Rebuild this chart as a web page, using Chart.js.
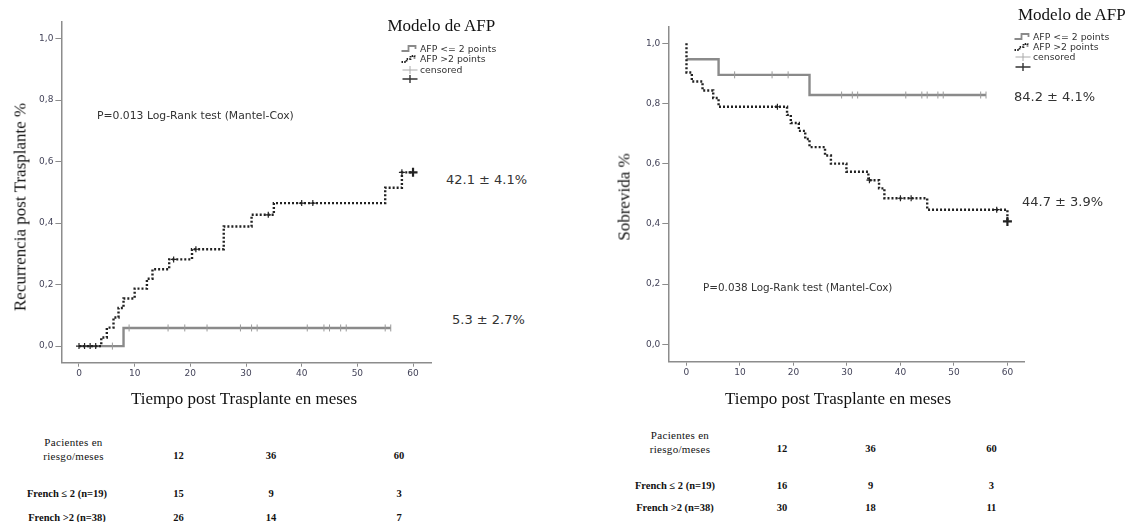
<!DOCTYPE html>
<html>
<head>
<meta charset="utf-8">
<script src="https://cdn.jsdelivr.net/npm/chart.js@4.4.1/dist/chart.umd.min.js"></script>
<style>
  body { margin: 0; background: #fff; width: 1126px; height: 522px; position: relative; overflow: hidden; }
  canvas { position: absolute; top: 0; }
  .t { position: absolute; white-space: nowrap; line-height: 1; }
  .serif { font-family: 'Liberation Serif', 'Times New Roman', serif; color: #111; }
  .sans { font-family: 'DejaVu Sans', sans-serif; color: #333; }
</style>
</head>
<body>
<canvas id="leftChart" width="440" height="390" style="left:0"></canvas>
<canvas id="rightChart" width="526" height="390" style="left:600px"></canvas>
<script>
// --- Recurrencia post trasplante (panel izquierdo) ---
const recTimesLe2 = [0, 8, 56];
const recValsLe2 = [0, 0.059, 0.059];
const recCensLe2 = [6, 9, 16, 19, 23, 29, 31, 32, 41, 44, 45, 47, 48, 55, 56];
const recTimesGt2 = [0, 4, 5, 6.2, 7.1, 8, 10, 12.2, 13.2, 16.2, 20.3, 26, 31, 35, 55, 58, 60];
const recValsGt2 = [0, 0.028, 0.06, 0.093, 0.124, 0.155, 0.187, 0.219, 0.25, 0.282, 0.315, 0.389, 0.427, 0.465, 0.515, 0.565, 0.565];
const recCensGt2 = [0, 1, 2, 3, 17, 21, 34, 40, 42, 58];
const recCensGt2Last = [60];

// --- Sobrevida (panel derecho) ---
const survTimesLe2 = [0, 6, 23, 56];
const survValsLe2 = [0.947, 0.895, 0.828, 0.828];
const survCensLe2 = [9, 16, 19, 29, 31, 32, 41, 44, 45, 47, 48, 55, 56];
const survTimesGt2 = [0, 0, 1, 3, 5, 6, 18.8, 19.5, 21, 22.2, 23, 25.9, 27, 29.9, 34, 36, 37, 45, 60];
const survValsGt2 = [1.0, 0.903, 0.873, 0.843, 0.818, 0.789, 0.762, 0.735, 0.709, 0.682, 0.655, 0.627, 0.6, 0.573, 0.545, 0.518, 0.485, 0.447, 0.408];
const survCensGt2 = [17, 34.2, 40, 42, 58];
const survCensGt2Last = [60];

// ticks
const xTicks = [0, 10, 20, 30, 40, 50, 60];
const yTicks = [0, 0.2, 0.4, 0.6, 0.8, 1.0];

// pacientes en riesgo
const riskMonths = [12, 36, 60];
const groupLabels = ['French \u2264 2 (n=19)', 'French >2 (n=38)'];
const recRiskLe2 = [15, 9, 3];
const recRiskGt2 = [26, 14, 7];
const survRiskLe2 = [16, 9, 3];
const survRiskGt2 = [30, 18, 11];

const GREY = '#8a8a8a';
const BLACK = '#222';
const AXIS = '#8c8c8c';
const TICK_FONT = { family: 'DejaVu Sans', size: 9 };

const toPoints = (times, vals) => times.map((t, i) => ({ x: t, y: vals[i] }));
// value of the step curve at time t
const valueAt = (times, vals, t) => {
  let v = vals[0];
  times.forEach((tt, i) => { if (tt <= t) v = vals[i]; });
  return v;
};
const censPoints = (cens, times, vals) => cens.map(t => ({ x: t, y: valueAt(times, vals, t) }));

function makeChart(id, cfg) {
  const ctx = document.getElementById(id).getContext('2d');
  return new Chart(ctx, {
    type: 'line',
    data: {
      datasets: [
        { type: 'scatter', data: censPoints(cfg.censGt2Last, cfg.timesGt2, cfg.valsGt2),
          pointStyle: 'cross', pointRadius: 4.5, borderColor: BLACK, pointBorderWidth: 2.2, showLine: false },
        { type: 'scatter', data: censPoints(cfg.censGt2, cfg.timesGt2, cfg.valsGt2),
          pointStyle: 'cross', pointRadius: 3, borderColor: BLACK, pointBorderWidth: 1.2, showLine: false },
        { type: 'scatter', data: censPoints(cfg.censLe2, cfg.timesLe2, cfg.valsLe2),
          pointStyle: 'line', rotation: 90, pointRadius: 3.5, borderColor: '#9a9a9a', pointBorderWidth: 1, showLine: false },
        { label: 'AFP >2 points', data: toPoints(cfg.timesGt2, cfg.valsGt2), stepped: true,
          borderColor: BLACK, borderWidth: 2.4, borderDash: [2, 2], pointRadius: 0, fill: false },
        { label: 'AFP <= 2 points', data: toPoints(cfg.timesLe2, cfg.valsLe2), stepped: true,
          borderColor: GREY, borderWidth: 2.4, pointRadius: 0, fill: false }
      ]
    },
    options: {
      responsive: false,
      animation: false,
      layout: { padding: cfg.padding },
      plugins: { legend: { display: false }, tooltip: { enabled: false } },
      scales: {
        x: {
          type: 'linear', min: cfg.xMin, max: cfg.xMax,
          afterBuildTicks: s => { s.ticks = xTicks.map(v => ({ value: v })); },
          afterFit: s => { s.height = 20; },
          grid: { drawOnChartArea: false, drawTicks: true, tickLength: 4, color: AXIS },
          border: { color: AXIS, width: 1.5 },
          ticks: { font: TICK_FONT, color: '#44445a', padding: 2, maxRotation: 0, autoSkip: false }
        },
        y: {
          type: 'linear', min: cfg.yMin, max: cfg.yMax,
          afterBuildTicks: s => { s.ticks = yTicks.map(v => ({ value: v })); },
          afterFit: s => { s.width = cfg.yWidth; },
          grid: { drawOnChartArea: false, drawTicks: true, tickLength: 6, color: AXIS },
          border: { color: AXIS, width: 1.5 },
          ticks: { font: TICK_FONT, color: '#44445a', padding: 2, autoSkip: false,
                   callback: v => v.toFixed(1).replace('.', ',') }
        }
      }
    }
  });
}

makeChart('leftChart', {
  timesLe2: recTimesLe2, valsLe2: recValsLe2, censLe2: recCensLe2,
  timesGt2: recTimesGt2, valsGt2: recValsGt2, censGt2: recCensGt2, censGt2Last: recCensGt2Last,
  xMin: -3.16, xMax: 63.3, yMin: -0.054, yMax: 1.054, yWidth: 61.4,
  padding: { left: 0, top: 22, right: 8.6, bottom: 7.3 }
});
makeChart('rightChart', {
  timesLe2: survTimesLe2, valsLe2: survValsLe2, censLe2: survCensLe2,
  timesGt2: survTimesGt2, valsGt2: survValsGt2, censGt2: survCensGt2, censGt2Last: survCensGt2Last,
  xMin: -3.4, xMax: 63.1, yMin: -0.058, yMax: 1.055, yWidth: 68.3,
  padding: { left: 0, top: 26.7, right: 102, bottom: 8.3 }
});

// text helpers
function place(text, x, cy, cls, css, anchor) {
  const d = document.createElement('div');
  d.className = 't ' + cls;
  d.textContent = text;
  d.style.left = x + 'px';
  d.style.top = cy + 'px';
  const tx = anchor === 'center' ? '-50%' : '0';
  d.style.transform = 'translate(' + tx + ',-50%)' + (css.rotate ? ' rotate(-90deg)' : '');
  Object.assign(d.style, css.style || {});
  document.body.appendChild(d);
  return d;
}

const legendIcons = [
  '<path d="M1 7 H8 V2 H15 V5" stroke="#8a8a8a" stroke-width="1.8" fill="none"/>',
  '<path d="M1 8 H6 V5 H10 V2 H14 V5" stroke="#222" stroke-width="1.8" stroke-dasharray="1.5 1.2" fill="none"/>',
  '<path d="M2 5 H17 M9.5 1 V9" stroke="#aaa" stroke-width="1" fill="none"/>',
  '<path d="M2 5 H17 M9.5 1 V9" stroke="#333" stroke-width="1.4" fill="none"/>'
];
const legendTexts = ['AFP <= 2 points', 'AFP >2 points', 'censored', ''];

function legend(x, rows) {
  rows.forEach((cy, i) => {
    const d = document.createElement('div');
    d.className = 't sans';
    d.style.left = x + 'px';
    d.style.top = (cy - 5) + 'px';
    d.style.fontSize = '9.3px';
    d.style.display = 'flex';
    d.style.alignItems = 'center';
    d.style.height = '10px';
    d.innerHTML = '<svg width="20" height="10" viewBox="0 0 19 10">' + legendIcons[i] + '</svg><span>' + legendTexts[i] + '</span>';
    document.body.appendChild(d);
  });
}

function panelText(p) {
  place('Modelo de AFP', p.titleX, p.titleY, 'serif', { style: { fontSize: '17px' } });
  legend(p.legX, p.legRows);
  place(p.pText, p.pX, p.pY, 'sans', { style: { fontSize: p.pSize } });
  p.notes.forEach(n => place(n[0], n[1], n[2], 'sans', { style: { fontSize: '13px' } }));
  place(p.yTitle, p.yTitleX, p.yTitleY, 'serif', { rotate: true, style: { fontSize: '17px' } }, 'center');
  place('Tiempo post Trasplante en meses', p.xTitleX, 398, 'serif', { style: { fontSize: '17px' } }, 'center');
  // tabla de pacientes en riesgo
  const ser = { fontSize: '11px', letterSpacing: '0.3px' };
  place('Pacientes en', p.hdrX, p.rows[0], 'serif', { style: ser }, 'center');
  place('riesgo/meses', p.hdrX, p.rows[1], 'serif', { style: ser }, 'center');
  const bold = { fontSize: '10.5px', fontWeight: 'bold' };
  riskMonths.forEach((m, i) => place(String(m), p.colX[i], p.rows[1], 'serif', { style: bold }, 'center'));
  place(groupLabels[0], p.grpX, p.rows[2], 'serif', { style: bold }, 'center');
  place(groupLabels[1], p.grpX, p.rows[3], 'serif', { style: bold }, 'center');
  p.risk[0].forEach((v, i) => place(String(v), p.colX[i], p.rows[2], 'serif', { style: bold }, 'center'));
  p.risk[1].forEach((v, i) => place(String(v), p.colX[i], p.rows[3], 'serif', { style: bold }, 'center'));
}

panelText({
  titleX: 387.5, titleY: 25, legX: 400, legRows: [49, 59, 69.5, 79],
  pText: 'P=0.013 Log-Rank test (Mantel-Cox)', pX: 97, pY: 115.5, pSize: '10.8px',
  notes: [['42.1 \u00b1 4.1%', 446, 179], ['5.3 \u00b1 2.7%', 452, 319]],
  yTitle: 'Recurrencia  post Trasplante %', yTitleX: 19.6, yTitleY: 207, xTitleX: 244,
  hdrX: 73.5, grpX: 67, colX: [178.6, 271, 399], rows: [441.5, 455.7, 494, 517.5],
  risk: [recRiskLe2, recRiskGt2]
});
panelText({
  titleX: 1018, titleY: 13.5, legX: 1013, legRows: [36.7, 46.7, 57, 66.7],
  pText: 'P=0.038 Log-Rank test (Mantel-Cox)', pX: 703, pY: 286.7, pSize: '10.4px',
  notes: [['84.2 \u00b1 4.1%', 1014, 96], ['44.7 \u00b1 3.9%', 1022, 200.7]],
  yTitle: 'Sobrevida %', yTitleX: 624, yTitleY: 197, xTitleX: 838,
  hdrX: 680, grpX: 675, colX: [782, 870.5, 991.4], rows: [435, 449.3, 486, 508.3],
  risk: [survRiskLe2, survRiskGt2]
});
</script>
</body>
</html>
